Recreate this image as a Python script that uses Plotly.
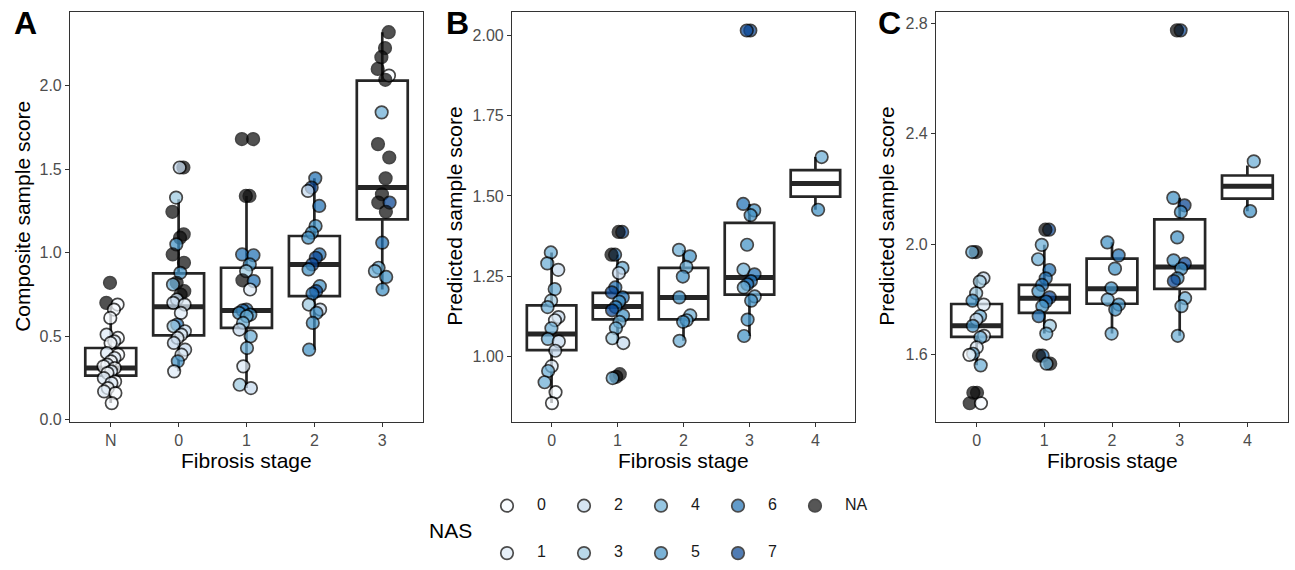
import plotly.graph_objects as go

FONT = "Liberation Sans, Arial, sans-serif"
NA = None

# ---------------- NAS colour scale ----------------
nas_levels = [0, 1, 2, 3, 4, 5, 6, 7, NA]
nas_labels = ["0", "1", "2", "3", "4", "5", "6", "7", "NA"]
nas_colors = ["#F7FBFF", "#DEEBF7", "#C6DBEF", "#9ECAE1", "#6BAED6",
              "#4292C6", "#2171B5", "#084594", "#0F0F0F"]

# ---------------- Panel A: composite sample score ----------------
a_stages = ["N", "0", "1", "2", "3"]
a_N_score = [0.82, 0.70, 0.69, 0.66, 0.61, 0.51, 0.49, 0.47, 0.46, 0.40, 0.39, 0.37, 0.35,
             0.33, 0.32, 0.31, 0.29, 0.28, 0.25, 0.23, 0.22, 0.19, 0.17, 0.16, 0.10]
a_N_nas = [NA, NA, 0, 0, 0, 1, 0, 1, 0, 1, 0, 1, 0, 1, 0, 0, 1, 0, 1, 0, 1, 0, 1, 0, 0]
a_0_score = [1.51, 1.51, 1.33, 1.245, 1.11, 1.09, 1.05, 0.99, 0.94, 0.88, 0.82, 0.81, 0.77, 0.75,
             0.72, 0.70, 0.69, 0.64, 0.57, 0.56, 0.53, 0.51, 0.49, 0.46, 0.42, 0.39, 0.35, 0.29]
a_0_nas = [NA, 2, 3, NA, NA, NA, 5, NA, NA, 5, NA, 4, NA, NA, 2, 2, 1, 1, 6, 3, 2, 1, 1, 2, 2, 1, 5, 1]
a_1_score = [1.68, 1.68, 1.34, 1.34, 0.99, 0.985, 0.93, 0.89, 0.835, 0.83, 0.78, 0.66, 0.655,
             0.64, 0.63, 0.62, 0.58, 0.54, 0.50, 0.43, 0.32, 0.21, 0.19]
a_1_nas = [NA, NA, NA, NA, 6, 6, 5, 3, NA, 6, 1, 6, 6, 5, 5, 4, 4, 2, 4, 4, 1, 3, 2]
a_2_score = [1.445, 1.39, 1.37, 1.28, 1.16, 1.12, 1.09, 0.99, 0.97, 0.93, 0.90, 0.80, 0.77,
             0.755, 0.69, 0.66, 0.64, 0.58, 0.42]
a_2_nas = [6, 7, 2, 6, 5, 5, 5, 6, 7, 7, 5, 5, 7, 6, 3, 2, 5, 5, 5]
a_3_score = [2.32, 2.225, 2.17, 2.10, 2.06, 2.035, 1.84, 1.65, 1.57, 1.445, 1.35, 1.30, 1.30,
             1.245, 1.06, 0.91, 0.89, 0.855, 0.78]
a_3_nas = [NA, NA, NA, NA, 0, NA, 4, NA, NA, NA, NA, NA, 7, NA, 6, 4, 4, 5, 5]
a_q1 = [0.265, 0.506, 0.55, 0.74, 1.20]
a_med = [0.31, 0.676, 0.655, 0.93, 1.39]
a_q3 = [0.43, 0.876, 0.91, 1.10, 2.03]
a_lo = [0.10, 0.29, 0.19, 0.42, 0.78]
a_hi = [0.69, 1.32, 1.34, 1.445, 2.32]

# ---------------- Panel B: predicted sample score ----------------
b_stages = ["0", "1", "2", "3", "4"]
b_0_score = [1.324, 1.29, 1.27, 1.21, 1.174, 1.154, 1.123, 1.113, 1.088, 1.055, 1.047, 1.018,
             0.97, 0.955, 0.92, 0.889, 0.855]
b_0_nas = [4, 4, 2, 4, 3, 4, 2, 1, 4, 4, 2, 2, 1, 4, 4, 0, 0]
b_1_score = [1.388, 1.388, 1.317, 1.317, 1.276, 1.26, 1.215, 1.20, 1.184, 1.171, 1.154, 1.144,
             1.128, 1.108, 1.088, 1.057, 1.042, 0.945, 0.937, 0.933]
b_1_nas = [7, NA, 6, NA, 4, 2, 6, 7, 6, 5, 6, 7, 5, 4, 4, 3, 2, NA, NA, 4]
b_2_score = [1.332, 1.312, 1.279, 1.249, 1.184, 1.128, 1.113, 1.108, 1.049]
b_2_nas = [4, 5, 4, 5, 5, 4, 4, 5, 4]
b_3_score = [2.015, 2.015, 1.475, 1.455, 1.44, 1.348, 1.271, 1.256, 1.235, 1.225, 1.215,
             1.187, 1.174, 1.115, 1.064]
b_3_nas = [7, 7, 6, 5, 5, 5, 4, 6, 6, 6, 4, 4, 5, 5, 5]
b_4_score = [1.621, 1.457]
b_4_nas = [4, 5]
b_q1 = [1.02, 1.116, 1.116, 1.193, 1.498]
b_med = [1.07, 1.156, 1.184, 1.246, 1.539]
b_q3 = [1.159, 1.198, 1.276, 1.416, 1.58]
b_lo = [0.855, 1.042, 1.049, 1.064, 1.457]
b_hi = [1.324, 1.317, 1.332, 1.475, 1.621]

# ---------------- Panel C: predicted sample score ----------------
c_stages = ["0", "1", "2", "3", "4"]
c_0_score = [1.972, 1.972, 1.877, 1.865, 1.823, 1.796, 1.782, 1.74, 1.728, 1.705, 1.669, 1.663,
             1.627, 1.604, 1.60, 1.562, 1.463, 1.463, 1.425, 1.425]
c_0_nas = [NA, 4, 2, 3, 3, 5, 1, 4, 2, 5, 1, 4, 1, 4, 0, 4, NA, NA, NA, 0]
c_1_score = [2.053, 2.053, 1.998, 1.946, 1.907, 1.877, 1.853, 1.83, 1.808, 1.793, 1.776, 1.74,
             1.705, 1.677, 1.597, 1.597, 1.568, 1.568]
c_1_nas = [7, NA, 4, 4, 6, 6, 6, 5, 7, 6, 5, 6, 3, 4, 6, NA, NA, 4]
c_2_score = [2.007, 1.96, 1.912, 1.841, 1.80, 1.782, 1.764, 1.677]
c_2_nas = [5, 6, 5, 5, 4, 5, 5, 4]
c_3_score = [2.774, 2.774, 2.168, 2.141, 2.117, 2.025, 1.942, 1.93, 1.912, 1.877, 1.867, 1.805,
             1.776, 1.669]
c_3_nas = [7, NA, 5, 7, 5, 5, 5, 7, 5, 5, 7, 4, 4, 4]
c_4_score = [2.30, 2.12]
c_4_nas = [4, 5]
c_q1 = [1.665, 1.752, 1.785, 1.839, 2.165]
c_med = [1.705, 1.805, 1.839, 1.918, 2.21]
c_q3 = [1.784, 1.853, 1.948, 2.09, 2.249]
c_lo = [1.562, 1.677, 1.677, 1.669, 2.12]
c_hi = [1.877, 1.998, 2.007, 2.168, 2.285]

panels = [
    dict(stages=a_stages, scores=[a_N_score, a_0_score, a_1_score, a_2_score, a_3_score],
         nas=[a_N_nas, a_0_nas, a_1_nas, a_2_nas, a_3_nas],
         q1=a_q1, med=a_med, q3=a_q3, lo=a_lo, hi=a_hi,
         ytitle="Composite sample score", yrange=[-0.0115, 2.4415], dtick=0.5, fmt=".1f",
         dom=[70, 423], letter="A", ytx=23),
    dict(stages=b_stages, scores=[b_0_score, b_1_score, b_2_score, b_3_score, b_4_score],
         nas=[b_0_nas, b_1_nas, b_2_nas, b_3_nas, b_4_nas],
         q1=b_q1, med=b_med, q3=b_q3, lo=b_lo, hi=b_hi,
         ytitle="Predicted sample score", yrange=[0.797, 2.073], dtick=0.25, fmt=".2f",
         dom=[512, 855], letter="B", ytx=455),
    dict(stages=c_stages, scores=[c_0_score, c_1_score, c_2_score, c_3_score, c_4_score],
         nas=[c_0_nas, c_1_nas, c_2_nas, c_3_nas, c_4_nas],
         q1=c_q1, med=c_med, q3=c_q3, lo=c_lo, hi=c_hi,
         ytitle="Predicted sample score", yrange=[1.358, 2.841], dtick=0.4, fmt=".1f",
         dom=[936, 1288], letter="C", ytx=887),
]

W, H = 1295, 570
TOP, BOT = 12, 427
color_of = {lv: col for lv, col in zip(nas_levels, nas_colors)}
BOXW = 0.75
JIT = 0.11
MSIZE = 12.5

fig = go.Figure()
annotations = []
layout_axes = {}

for k, p in enumerate(panels):
    n = k + 1
    xa = "x" if n == 1 else f"x{n}"
    ya = "y" if n == 1 else f"y{n}"
    pos = list(range(len(p["stages"])))

    # boxplots from statistics
    fig.add_trace(go.Box(
        x=pos, q1=p["q1"], median=p["med"], q3=p["q3"],
        lowerfence=p["lo"], upperfence=p["hi"],
        width=BOXW, whiskerwidth=0, boxpoints=False,
        fillcolor="white", line=dict(color="#262626", width=2.7),
        xaxis=xa, yaxis=ya, showlegend=False, hoverinfo="skip"))

    # thick median bars
    mx, my = [], []
    for xi, m in zip(pos, p["med"]):
        mx += [xi - BOXW / 2, xi + BOXW / 2, None]
        my += [m, m, None]
    fig.add_trace(go.Scatter(x=mx, y=my, mode="lines",
                             line=dict(color="#262626", width=5),
                             xaxis=xa, yaxis=ya, showlegend=False, hoverinfo="skip"))

    # jittered points (deterministic low-discrepancy jitter)
    px, py, pc = [], [], []
    for xi, sc, na in zip(pos, p["scores"], p["nas"]):
        for i, (v, lv) in enumerate(zip(sc, na)):
            off = (((i * 0.7548776662 + 0.37 * xi + 0.45) % 1.0) - 0.5) * 2 * JIT
            px.append(xi + off)
            py.append(v)
            pc.append(color_of[lv])
    fig.add_trace(go.Scatter(
        x=px, y=py, mode="markers",
        marker=dict(size=MSIZE, color=pc, opacity=0.72,
                    line=dict(color="black", width=1.7)),
        xaxis=xa, yaxis=ya, showlegend=False, hoverinfo="skip"))

    x0, x1 = p["dom"]
    common = dict(showline=True, mirror=True, linecolor="#333333", linewidth=1.1,
                  ticks="outside", ticklen=4, tickwidth=1.1, tickcolor="#333333",
                  showgrid=False, zeroline=False,
                  tickfont=dict(family=FONT, size=16, color="#4D4D4D"))
    layout_axes["xaxis" if n == 1 else f"xaxis{n}"] = dict(
        domain=[x0 / W, x1 / W], anchor=ya, range=[-0.6, len(pos) - 0.4],
        tickvals=pos, ticktext=p["stages"], **common)
    layout_axes["yaxis" if n == 1 else f"yaxis{n}"] = dict(
        domain=[1 - BOT / H, 1 - TOP / H], anchor=xa, range=p["yrange"],
        dtick=p["dtick"], tick0=0, tickformat=p["fmt"], **common)

    # axis titles
    annotations.append(dict(text="Fibrosis stage", x=(x0 + x1) / 2 / W, y=1 - 466 / H,
                            xref="paper", yref="paper", showarrow=False,
                            xanchor="center", yanchor="middle",
                            font=dict(family=FONT, size=21, color="black")))
    annotations.append(dict(text=p["ytitle"], x=p["ytx"] / W, y=1 - (TOP + BOT) / 2 / H,
                            xref="paper", yref="paper", showarrow=False, textangle=-90,
                            xanchor="center", yanchor="middle",
                            font=dict(family=FONT, size=21, color="black")))
    # panel letter
    lx = {"A": 25, "B": 457, "C": 889}[p["letter"]]
    annotations.append(dict(text="<b>" + p["letter"] + "</b>", x=lx / W, y=1 - 23 / H,
                            xref="paper", yref="paper", showarrow=False,
                            xanchor="center", yanchor="middle",
                            font=dict(family=FONT, size=32, color="black")))

# ---------------- manual legend (2 rows, column-major) ----------------
LEG_X0, LEG_DX, LEG_Y0, LEG_DY = 507, 77, 512, 48
LEG_TOP = 478
lgx, lgy, lgc, tx, ty = [], [], [], [], []
for idx, (lv, lab) in enumerate(zip(nas_levels, nas_labels)):
    c, r = divmod(idx, 2)
    lgx.append(LEG_X0 + LEG_DX * c)
    lgy.append(LEG_Y0 + LEG_DY * r)
    lgc.append(color_of[lv])
    tx.append(LEG_X0 + LEG_DX * c + 30)
    ty.append(LEG_Y0 + LEG_DY * r)
fig.add_trace(go.Scatter(x=lgx, y=lgy, mode="markers",
                         marker=dict(size=MSIZE, color=lgc, opacity=0.7,
                                     line=dict(color="black", width=1.7)),
                         xaxis="x4", yaxis="y4", showlegend=False, hoverinfo="skip",
                         cliponaxis=False))
fig.add_trace(go.Scatter(x=tx, y=ty, mode="text", text=nas_labels,
                         textposition="middle right",
                         textfont=dict(family=FONT, size=16, color="#1A1A1A"),
                         xaxis="x4", yaxis="y4", showlegend=False, hoverinfo="skip",
                         cliponaxis=False))
layout_axes["xaxis4"] = dict(domain=[0, 1], range=[0, W], visible=False, anchor="y4")
layout_axes["yaxis4"] = dict(domain=[0, 1 - LEG_TOP / H], range=[H, LEG_TOP],
                             visible=False, anchor="x4")
annotations.append(dict(text="NAS", x=450 / W, y=1 - 537 / H, xref="paper", yref="paper",
                        showarrow=False, xanchor="center", yanchor="middle",
                        font=dict(family=FONT, size=21, color="black")))

fig.update_layout(
    width=W, height=H, margin=dict(l=0, r=0, t=0, b=0),
    paper_bgcolor="white", plot_bgcolor="rgba(0,0,0,0)",
    font=dict(family=FONT), showlegend=False,
    annotations=annotations, **layout_axes)

fig.write_html("out.html")
